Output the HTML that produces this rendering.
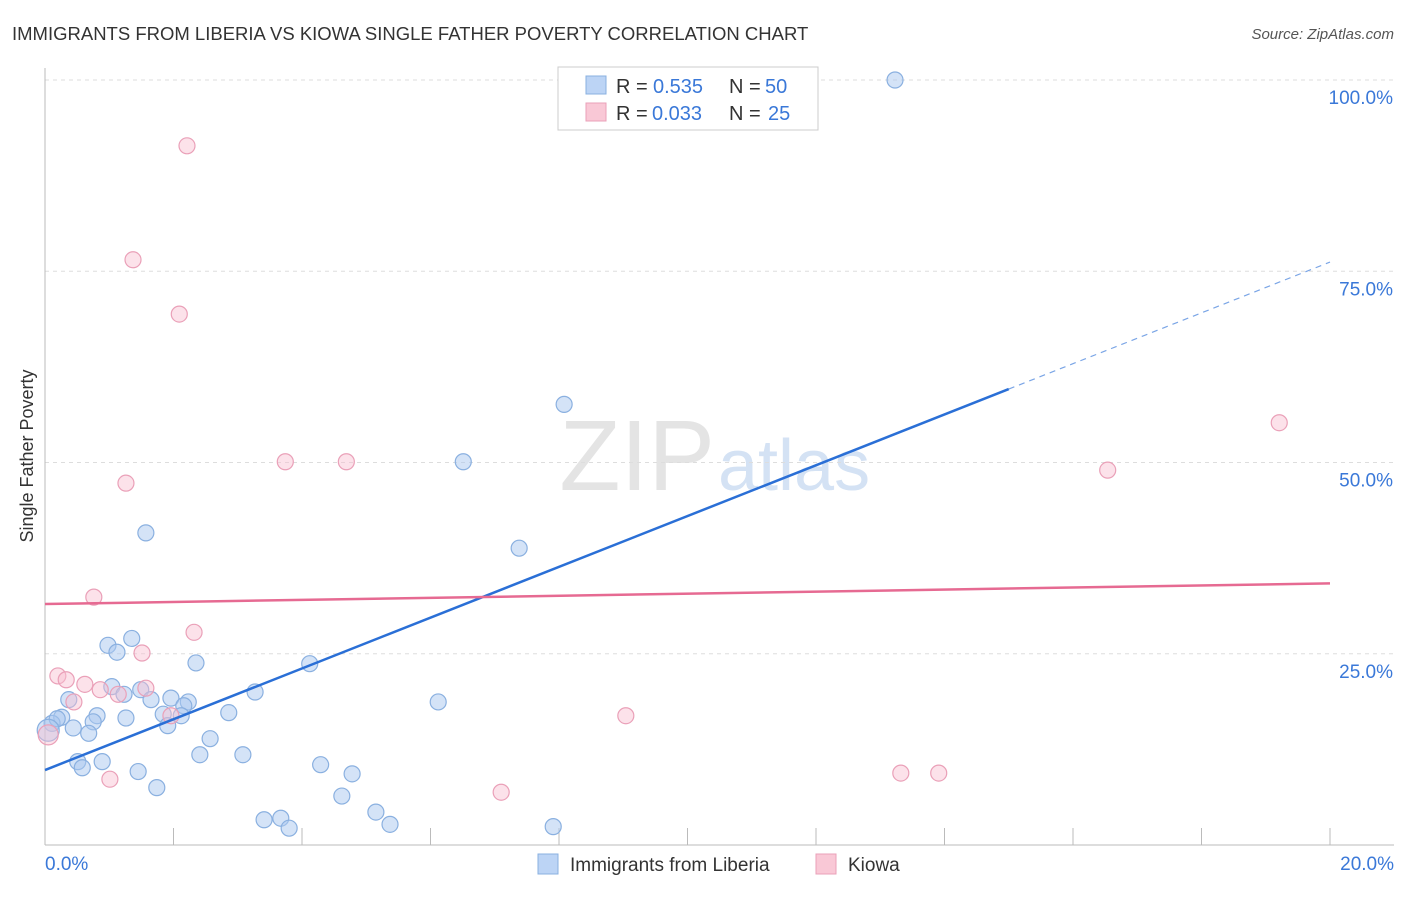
<!DOCTYPE html>
<html><head><meta charset="utf-8"><style>
body{margin:0;background:#fff;font-family:"Liberation Sans",sans-serif;}
svg text{font-family:"Liberation Sans",sans-serif;}
</style></head><body>
<svg id="chart" width="1406" height="892" xmlns="http://www.w3.org/2000/svg">
<text x="12" y="40" font-size="18.5" fill="#333">IMMIGRANTS FROM LIBERIA VS KIOWA SINGLE FATHER POVERTY CORRELATION CHART</text>
<text x="1394" y="39" font-size="15" fill="#555" font-style="italic" text-anchor="end">Source: ZipAtlas.com</text>
<text x="33" y="456" font-size="18" fill="#333" transform="rotate(-90 33 456)" text-anchor="middle">Single Father Poverty</text>
<text x="715" y="490" font-size="100" fill="#e4e4e4" text-anchor="end" font-family="Liberation Serif">ZIP</text>
<text x="718" y="490" font-size="72" fill="#d4e2f4">atlas</text>
<g id="grid"></g><g id="axes"></g><g id="pts"></g><g id="lines"></g>
<g>
<rect x="558" y="67" width="260" height="63" fill="#fff" stroke="#ccc"/>
<rect x="586" y="76" width="20" height="18" fill="#bcd4f5" stroke="#8ab0e0"/>
<text x="616" y="93" font-size="20" fill="#333">R =</text>
<text x="653" y="93" font-size="20" fill="#3a78d8">0.535</text>
<text x="729" y="93" font-size="20" fill="#333">N =</text>
<text x="765" y="93" font-size="20" fill="#3a78d8">50</text>
<rect x="586" y="103" width="20" height="18" fill="#f9c8d6" stroke="#eaa0b8"/>
<text x="616" y="120" font-size="20" fill="#333">R =</text>
<text x="652" y="120" font-size="20" fill="#3a78d8">0.033</text>
<text x="729" y="120" font-size="20" fill="#333">N =</text>
<text x="768" y="120" font-size="20" fill="#3a78d8">25</text>
</g>
<g>
<rect x="538" y="854" width="20" height="20" fill="#bcd4f5" stroke="#8ab0e0"/>
<text x="570" y="871" font-size="19" fill="#333">Immigrants from Liberia</text>
<rect x="816" y="854" width="20" height="20" fill="#f9c8d6" stroke="#eaa0b8"/>
<text x="848" y="871" font-size="19" fill="#333">Kiowa</text>
</g>
</svg>
<script>
const blueX=[13.23,8.08,6.51,7.38,1.57,0.98,1.35,1.12,2.35,4.12,1.04,1.23,1.49,1.65,1.96,2.23,2.16,3.27,0.37,0.26,0.81,0.75,1.26,1.84,2.12,1.91,2.86,6.12,0.11,0.19,0.44,0.68,2.57,2.41,3.08,0.51,0.58,0.89,1.45,4.29,4.78,1.74,4.62,5.15,3.41,3.67,3.80,5.37,7.91,0.05];
const blueY=[100,57.6,50.1,38.8,40.8,26.1,27.0,25.2,23.8,23.7,20.7,19.7,20.3,19.0,19.2,18.7,18.2,20.0,19.0,16.7,16.9,16.1,16.6,17.1,16.9,15.6,17.3,18.7,15.9,16.5,15.3,14.6,13.9,11.8,11.8,10.9,10.1,10.9,9.6,10.5,9.3,7.5,6.4,4.3,3.3,3.5,2.2,2.7,2.4,15.0];
const pinkX=[2.21,1.37,2.09,3.74,4.69,1.26,16.54,19.21,0.76,2.32,1.51,0.20,0.33,0.62,1.57,0.86,1.14,0.45,1.96,9.04,13.32,13.91,1.01,7.10,0.05];
const pinkY=[91.4,76.5,69.4,50.1,50.1,47.3,49.0,55.2,32.4,27.8,25.1,22.1,21.6,21.0,20.5,20.3,19.7,18.7,16.9,16.9,9.4,9.4,8.6,6.9,14.4];
const blueLine=[9.8,76.2], blueSolidEnd=15.0;
const pinkLine=[31.5,34.2];
const yTicks=[25,50,75,100], yLabels=["25.0%","50.0%","75.0%","100.0%"];
const xTicks=[0,2,4,6,8,10,12,14,16,18,20];
const X=v=>45+v*64.25, Y=v=>845-v*7.65;
const NS="http://www.w3.org/2000/svg";
function mk(t,a,p){const e=document.createElementNS(NS,t);for(const k in a)e.setAttribute(k,a[k]);p.appendChild(e);return e;}
const g=document.getElementById('grid'),ax=document.getElementById('axes'),pts=document.getElementById('pts'),ln=document.getElementById('lines');
yTicks.forEach((v,i)=>{const l=mk('line',{x1:45,x2:1394,y1:Y(v),y2:Y(v),stroke:'#ddd','stroke-dasharray':'4,4'},g);

const t=mk('text',{x:1393,y:Y(v)+24,'font-size':19,fill:'#3a78d8','text-anchor':'end'},ax);t.textContent=yLabels[i];
});
let a=mk('line',{x1:45,x2:45,y1:68,y2:845,stroke:'#bbb'},ax);
a=mk('line',{x1:45,x2:1394,y1:845,y2:845,stroke:'#bbb'},ax);
xTicks.forEach(v=>{const l=mk('line',{x1:X(v),x2:X(v),y1:828,y2:845,stroke:'#bbb'},ax);});
let t=mk('text',{x:45,y:870,'font-size':19,fill:'#3a78d8'},ax);t.textContent='0.0%';
t=mk('text',{x:1394,y:870,'font-size':19,fill:'#3a78d8','text-anchor':'end'},ax);t.textContent='20.0%';
blueX.forEach((x,i)=>{const c=mk('circle',{cx:X(x),cy:Y(blueY[i]),r:i==49?11:8,fill:'rgba(170,200,240,0.5)',stroke:'#8ab0e0','stroke-width':1.2},pts);
});
pinkX.forEach((x,i)=>{const c=mk('circle',{cx:X(x),cy:Y(pinkY[i]),r:i==24?10:8,fill:'rgba(248,190,208,0.45)',stroke:'#eaa0b8','stroke-width':1.2},pts);
});
const by=x=>blueLine[0]+(blueLine[1]-blueLine[0])*x/20;
let l=mk('line',{x1:X(0),y1:Y(by(0)),x2:X(blueSolidEnd),y2:Y(by(blueSolidEnd)),stroke:'#2a6fd6','stroke-width':2.5},ln);

l=mk('line',{x1:X(blueSolidEnd),y1:Y(by(blueSolidEnd)),x2:X(20),y2:Y(by(20)),stroke:'#7aa5e6','stroke-width':1.2,'stroke-dasharray':'6,5'},ln);

l=mk('line',{x1:X(0),y1:Y(pinkLine[0]),x2:X(20),y2:Y(pinkLine[1]),stroke:'#e66a92','stroke-width':2.5},ln);

</script>
</body></html>
